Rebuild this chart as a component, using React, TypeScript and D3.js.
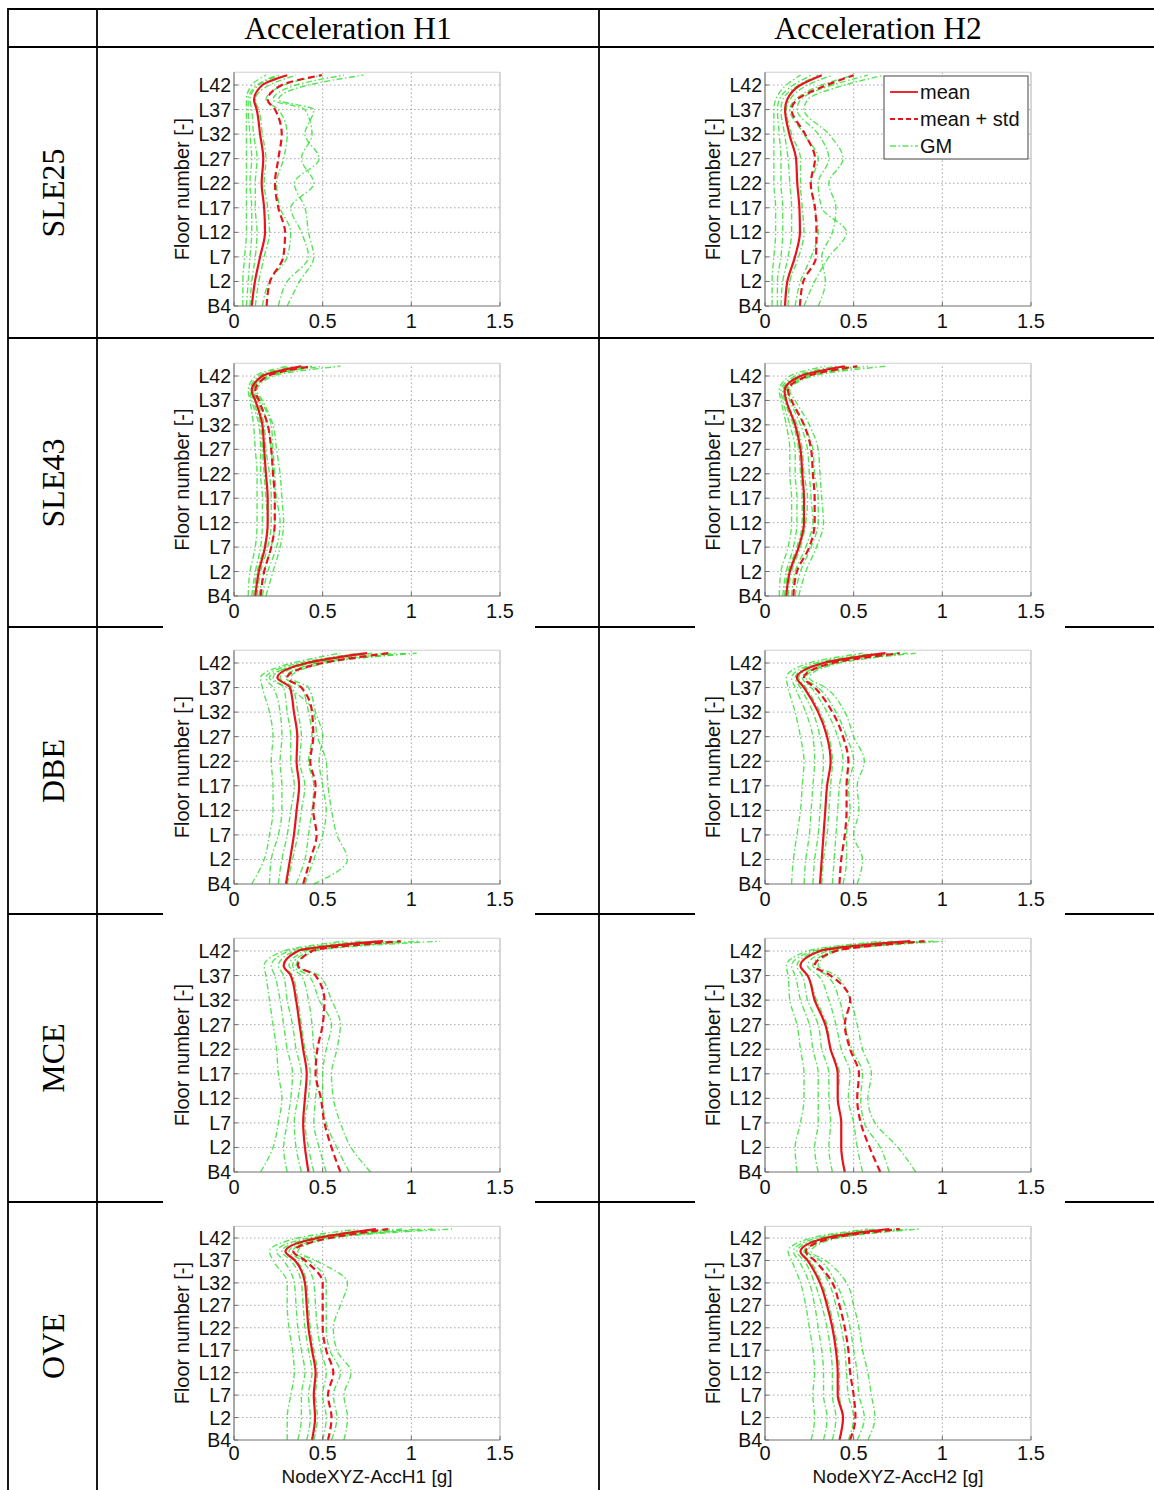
import React from 'react';
import * as d3 from 'd3';

// ---------- labels / ticks ----------
const ROW_LABELS = ['SLE25', 'SLE43', 'DBE', 'MCE', 'OVE'];
const COL_LABELS = ['Acceleration H1', 'Acceleration H2'];
const X_LABELS = ['NodeXYZ-AccH1 [g]', 'NodeXYZ-AccH2 [g]'];
const FLOOR_TICKS = ['B4', 'L2', 'L7', 'L12', 'L17', 'L22', 'L27', 'L32', 'L37', 'L42'];
const FLOOR_TICK_IDX = [0, 5, 10, 15, 20, 25, 30, 35, 40, 45];
const X_TICKS = [0, 0.5, 1, 1.5];
const X_TICK_TEXT = ['0', '0.5', '1', '1.5'];
// floor index (B4 = 0, L2 = 5, ..., L42 = 45, roof = 47) at which profiles are sampled
const LEVELS = [0, 5, 10, 15, 20, 25, 30, 35, 40, 42, 45, 47];
const LEGEND = ['mean', 'mean + std', 'GM'];

// ---------- data (peak floor acceleration, g) ----------
// SLE25
const sle25H1Mean = [0.10, 0.118, 0.147, 0.175, 0.17, 0.156, 0.165, 0.147, 0.128, 0.113, 0.16, 0.30];
const sle25H1Std = [0.184, 0.203, 0.278, 0.288, 0.25, 0.231, 0.25, 0.269, 0.231, 0.19, 0.27, 0.495];
const sle25H1GM = [
  [0.05, 0.05, 0.06, 0.07, 0.07, 0.07, 0.07, 0.07, 0.07, 0.07, 0.10, 0.18],
  [0.07, 0.08, 0.09, 0.10, 0.10, 0.09, 0.10, 0.09, 0.08, 0.08, 0.13, 0.24],
  [0.09, 0.10, 0.12, 0.13, 0.12, 0.12, 0.13, 0.11, 0.10, 0.09, 0.14, 0.26],
  [0.12, 0.14, 0.17, 0.20, 0.19, 0.17, 0.18, 0.16, 0.14, 0.12, 0.20, 0.35],
  [0.16, 0.20, 0.30, 0.32, 0.26, 0.24, 0.28, 0.30, 0.25, 0.18, 0.28, 0.50],
  [0.25, 0.30, 0.42, 0.38, 0.32, 0.45, 0.38, 0.44, 0.40, 0.22, 0.35, 0.62],
  [0.30, 0.37, 0.45, 0.42, 0.40, 0.34, 0.48, 0.40, 0.45, 0.25, 0.42, 0.73],
];
const sle25H2Mean = [0.113, 0.126, 0.169, 0.197, 0.194, 0.182, 0.175, 0.137, 0.113, 0.125, 0.20, 0.32];
const sle25H2Std = [0.197, 0.216, 0.288, 0.29, 0.282, 0.258, 0.282, 0.226, 0.15, 0.18, 0.35, 0.50];
const sle25H2GM = [
  [0.04, 0.04, 0.05, 0.06, 0.06, 0.05, 0.05, 0.05, 0.05, 0.06, 0.12, 0.20],
  [0.07, 0.07, 0.09, 0.10, 0.10, 0.09, 0.09, 0.08, 0.07, 0.08, 0.16, 0.26],
  [0.09, 0.10, 0.13, 0.15, 0.15, 0.14, 0.13, 0.11, 0.09, 0.10, 0.19, 0.30],
  [0.13, 0.14, 0.19, 0.22, 0.21, 0.20, 0.20, 0.15, 0.12, 0.14, 0.24, 0.38],
  [0.17, 0.20, 0.26, 0.30, 0.28, 0.26, 0.30, 0.22, 0.14, 0.17, 0.32, 0.50],
  [0.22, 0.28, 0.36, 0.46, 0.32, 0.30, 0.36, 0.30, 0.18, 0.20, 0.38, 0.58],
  [0.30, 0.34, 0.32, 0.38, 0.40, 0.36, 0.44, 0.36, 0.22, 0.24, 0.45, 0.67],
];
// SLE43
const sle43H1Mean = [0.12, 0.14, 0.175, 0.19, 0.19, 0.18, 0.17, 0.16, 0.12, 0.10, 0.16, 0.38];
const sle43H1Std = [0.15, 0.17, 0.21, 0.23, 0.23, 0.22, 0.21, 0.19, 0.14, 0.12, 0.19, 0.44];
const sle43H1GM = [
  [0.08, 0.09, 0.12, 0.13, 0.13, 0.13, 0.12, 0.11, 0.09, 0.08, 0.12, 0.30],
  [0.10, 0.12, 0.15, 0.16, 0.16, 0.15, 0.15, 0.14, 0.10, 0.09, 0.14, 0.34],
  [0.11, 0.13, 0.17, 0.19, 0.18, 0.17, 0.16, 0.15, 0.11, 0.10, 0.16, 0.37],
  [0.13, 0.15, 0.19, 0.21, 0.21, 0.20, 0.18, 0.17, 0.13, 0.11, 0.17, 0.40],
  [0.14, 0.17, 0.21, 0.23, 0.23, 0.22, 0.21, 0.19, 0.14, 0.11, 0.19, 0.44],
  [0.16, 0.19, 0.24, 0.26, 0.24, 0.23, 0.22, 0.21, 0.15, 0.12, 0.20, 0.50],
  [0.18, 0.22, 0.26, 0.28, 0.27, 0.26, 0.24, 0.22, 0.16, 0.13, 0.22, 0.60],
];
const sle43H2Mean = [0.12, 0.14, 0.19, 0.22, 0.22, 0.21, 0.20, 0.17, 0.12, 0.11, 0.20, 0.45];
const sle43H2Std = [0.16, 0.18, 0.25, 0.28, 0.28, 0.27, 0.26, 0.22, 0.15, 0.13, 0.24, 0.52];
const sle43H2GM = [
  [0.08, 0.09, 0.13, 0.15, 0.15, 0.14, 0.14, 0.12, 0.09, 0.08, 0.14, 0.34],
  [0.10, 0.12, 0.16, 0.18, 0.18, 0.17, 0.17, 0.14, 0.10, 0.09, 0.17, 0.40],
  [0.11, 0.13, 0.18, 0.21, 0.21, 0.20, 0.19, 0.16, 0.11, 0.10, 0.19, 0.44],
  [0.13, 0.15, 0.20, 0.23, 0.24, 0.22, 0.21, 0.18, 0.12, 0.11, 0.21, 0.47],
  [0.15, 0.17, 0.23, 0.27, 0.26, 0.25, 0.24, 0.20, 0.14, 0.12, 0.23, 0.52],
  [0.17, 0.20, 0.26, 0.30, 0.30, 0.28, 0.27, 0.22, 0.15, 0.13, 0.25, 0.58],
  [0.19, 0.23, 0.29, 0.33, 0.32, 0.31, 0.30, 0.25, 0.17, 0.14, 0.27, 0.68],
];
// DBE
const dbeH1Mean = [0.293, 0.316, 0.338, 0.353, 0.367, 0.353, 0.357, 0.338, 0.316, 0.245, 0.41, 0.75];
const dbeH1Std = [0.39, 0.43, 0.466, 0.447, 0.46, 0.43, 0.447, 0.44, 0.38, 0.30, 0.50, 0.87];
const dbeH1GM = [
  [0.10, 0.17, 0.20, 0.22, 0.22, 0.21, 0.22, 0.20, 0.16, 0.15, 0.33, 0.60],
  [0.20, 0.21, 0.25, 0.27, 0.27, 0.26, 0.27, 0.26, 0.22, 0.18, 0.37, 0.70],
  [0.25, 0.27, 0.30, 0.32, 0.34, 0.32, 0.32, 0.30, 0.28, 0.22, 0.40, 0.78],
  [0.30, 0.33, 0.36, 0.38, 0.40, 0.37, 0.38, 0.36, 0.33, 0.26, 0.43, 0.85],
  [0.35, 0.40, 0.42, 0.44, 0.45, 0.42, 0.44, 0.42, 0.38, 0.29, 0.47, 0.92],
  [0.40, 0.45, 0.50, 0.52, 0.50, 0.48, 0.50, 0.46, 0.42, 0.32, 0.52, 0.98],
  [0.45, 0.64, 0.58, 0.55, 0.53, 0.52, 0.47, 0.45, 0.30, 0.20, 0.45, 1.03],
];
const dbeH2Mean = [0.31, 0.32, 0.33, 0.34, 0.35, 0.37, 0.35, 0.30, 0.22, 0.18, 0.33, 0.68];
const dbeH2Std = [0.42, 0.43, 0.45, 0.46, 0.46, 0.47, 0.44, 0.38, 0.28, 0.22, 0.38, 0.76];
const dbeH2GM = [
  [0.15, 0.16, 0.18, 0.20, 0.21, 0.22, 0.20, 0.17, 0.13, 0.12, 0.25, 0.55],
  [0.22, 0.23, 0.25, 0.26, 0.27, 0.28, 0.27, 0.23, 0.17, 0.15, 0.29, 0.62],
  [0.27, 0.28, 0.30, 0.31, 0.32, 0.33, 0.31, 0.27, 0.20, 0.17, 0.31, 0.66],
  [0.32, 0.33, 0.35, 0.36, 0.37, 0.38, 0.36, 0.31, 0.23, 0.19, 0.34, 0.70],
  [0.38, 0.39, 0.40, 0.41, 0.42, 0.44, 0.41, 0.35, 0.26, 0.21, 0.37, 0.75],
  [0.44, 0.46, 0.46, 0.48, 0.47, 0.50, 0.46, 0.40, 0.30, 0.23, 0.40, 0.80],
  [0.52, 0.55, 0.50, 0.53, 0.52, 0.56, 0.50, 0.45, 0.34, 0.25, 0.42, 0.85],
];
// MCE
const mceH1Mean = [0.42, 0.40, 0.39, 0.40, 0.41, 0.39, 0.37, 0.35, 0.32, 0.28, 0.36, 0.84];
const mceH1Std = [0.60, 0.55, 0.51, 0.49, 0.46, 0.47, 0.50, 0.51, 0.46, 0.36, 0.44, 0.94];
const mceH1GM = [
  [0.15, 0.22, 0.25, 0.27, 0.25, 0.24, 0.22, 0.20, 0.18, 0.17, 0.28, 0.62],
  [0.30, 0.28, 0.30, 0.32, 0.33, 0.30, 0.28, 0.26, 0.23, 0.21, 0.31, 0.72],
  [0.38, 0.35, 0.34, 0.36, 0.38, 0.35, 0.33, 0.30, 0.28, 0.25, 0.34, 0.80],
  [0.45, 0.42, 0.40, 0.42, 0.43, 0.40, 0.38, 0.36, 0.33, 0.28, 0.37, 0.88],
  [0.52, 0.48, 0.45, 0.46, 0.47, 0.45, 0.44, 0.42, 0.38, 0.31, 0.40, 0.95],
  [0.65, 0.58, 0.52, 0.50, 0.50, 0.52, 0.55, 0.48, 0.42, 0.33, 0.43, 1.05],
  [0.77, 0.66, 0.60, 0.56, 0.55, 0.58, 0.60, 0.55, 0.48, 0.35, 0.46, 1.16],
];
const mceH2Mean = [0.45, 0.43, 0.43, 0.41, 0.41, 0.37, 0.34, 0.28, 0.24, 0.20, 0.31, 0.82];
const mceH2Std = [0.65, 0.59, 0.54, 0.52, 0.53, 0.48, 0.45, 0.48, 0.37, 0.28, 0.40, 0.90];
const mceH2GM = [
  [0.18, 0.17, 0.20, 0.22, 0.22, 0.20, 0.18, 0.14, 0.13, 0.12, 0.24, 0.66],
  [0.30, 0.28, 0.30, 0.30, 0.30, 0.27, 0.25, 0.20, 0.17, 0.15, 0.27, 0.72],
  [0.38, 0.36, 0.37, 0.36, 0.36, 0.32, 0.30, 0.24, 0.21, 0.18, 0.29, 0.78],
  [0.45, 0.43, 0.43, 0.41, 0.42, 0.37, 0.35, 0.29, 0.24, 0.20, 0.32, 0.83],
  [0.55, 0.52, 0.50, 0.47, 0.48, 0.43, 0.40, 0.36, 0.30, 0.24, 0.35, 0.88],
  [0.70, 0.65, 0.56, 0.54, 0.55, 0.49, 0.45, 0.42, 0.35, 0.27, 0.38, 0.95],
  [0.85, 0.75, 0.62, 0.58, 0.60, 0.55, 0.52, 0.48, 0.40, 0.30, 0.40, 1.02],
];
// OVE
const oveH1Mean = [0.44, 0.457, 0.45, 0.46, 0.44, 0.42, 0.41, 0.40, 0.344, 0.29, 0.47, 0.80];
const oveH1Std = [0.53, 0.55, 0.53, 0.56, 0.52, 0.50, 0.50, 0.50, 0.40, 0.335, 0.54, 0.87];
const oveH1GM = [
  [0.30, 0.30, 0.32, 0.34, 0.33, 0.31, 0.30, 0.30, 0.22, 0.20, 0.36, 0.70],
  [0.36, 0.38, 0.38, 0.40, 0.38, 0.36, 0.35, 0.34, 0.28, 0.24, 0.42, 0.80],
  [0.41, 0.43, 0.42, 0.44, 0.42, 0.40, 0.39, 0.38, 0.32, 0.27, 0.45, 0.88],
  [0.45, 0.47, 0.46, 0.47, 0.45, 0.43, 0.42, 0.41, 0.35, 0.29, 0.48, 0.95],
  [0.50, 0.52, 0.50, 0.52, 0.49, 0.47, 0.46, 0.45, 0.38, 0.31, 0.50, 1.05],
  [0.55, 0.58, 0.56, 0.60, 0.54, 0.52, 0.52, 0.52, 0.42, 0.33, 0.52, 1.12],
  [0.62, 0.64, 0.62, 0.66, 0.58, 0.56, 0.60, 0.64, 0.46, 0.36, 0.55, 1.23],
];
const oveH2Mean = [0.42, 0.44, 0.41, 0.41, 0.40, 0.38, 0.35, 0.31, 0.24, 0.20, 0.34, 0.70];
const oveH2Std = [0.48, 0.51, 0.50, 0.48, 0.47, 0.45, 0.42, 0.38, 0.28, 0.23, 0.38, 0.76];
const oveH2GM = [
  [0.26, 0.28, 0.27, 0.28, 0.27, 0.25, 0.23, 0.20, 0.15, 0.13, 0.26, 0.58],
  [0.33, 0.35, 0.33, 0.33, 0.32, 0.30, 0.28, 0.25, 0.19, 0.16, 0.29, 0.63],
  [0.38, 0.40, 0.38, 0.38, 0.37, 0.35, 0.32, 0.28, 0.22, 0.18, 0.32, 0.68],
  [0.42, 0.44, 0.42, 0.42, 0.41, 0.39, 0.36, 0.32, 0.25, 0.20, 0.34, 0.72],
  [0.47, 0.50, 0.47, 0.46, 0.45, 0.43, 0.40, 0.36, 0.28, 0.22, 0.37, 0.76],
  [0.52, 0.56, 0.53, 0.52, 0.50, 0.48, 0.45, 0.40, 0.31, 0.24, 0.39, 0.82],
  [0.58, 0.62, 0.60, 0.58, 0.55, 0.53, 0.50, 0.46, 0.34, 0.26, 0.41, 0.87],
];

const PANELS = [
  [[sle25H1Mean, sle25H1Std, sle25H1GM], [sle25H2Mean, sle25H2Std, sle25H2GM]],
  [[sle43H1Mean, sle43H1Std, sle43H1GM], [sle43H2Mean, sle43H2Std, sle43H2GM]],
  [[dbeH1Mean, dbeH1Std, dbeH1GM], [dbeH2Mean, dbeH2Std, dbeH2GM]],
  [[mceH1Mean, mceH1Std, mceH1GM], [mceH2Mean, mceH2Std, mceH2GM]],
  [[oveH1Mean, oveH1Std, oveH1GM], [oveH2Mean, oveH2Std, oveH2GM]],
];

// ---------- layout ----------
const W = 1154;
const H = 1490;
const ROW_GEOM = [
  { l42: 85, b4: 306 },
  { l42: 376, b4: 596 },
  { l42: 663, b4: 884 },
  { l42: 951, b4: 1172 },
  { l42: 1238, b4: 1440 },
];
const COL_X0 = [234, 765];
const AX_W = 266;
const ROW_LINES = [9, 47, 338, 627, 914, 1202];
const ROW_CENTERS = [193, 483, 771, 1058, 1346];
const COL_CENTERS = [348, 878];

const SANS = 'Liberation Sans, Arial, Helvetica, sans-serif';
const SERIF = 'Liberation Serif, Times New Roman, Times, serif';
const RED = '#e8141c';
const GREEN = '#1fdc1f';

type Pt = [number, number];

function Panel({ row, col }: { row: number; col: number }) {
  const [mean, std, gms] = PANELS[row][col] as [number[], number[], number[][]];
  const g = ROW_GEOM[row];
  const x0 = COL_X0[col];
  const last = row === ROW_GEOM.length - 1;
  const xs = d3.scaleLinear().domain([0, 1.5]).range([x0, x0 + AX_W]);
  const ys = d3.scaleLinear().domain([0, 45]).range([g.b4, g.l42]);
  const yTop = ys(47.6);
  const line = d3
    .line<Pt>()
    .x((d) => xs(d[0]))
    .y((d) => ys(d[1]))
    .curve(d3.curveMonotoneY);
  const pts = (arr: number[]): Pt[] => arr.map((v, i) => [v, LEVELS[i]] as Pt);
  const midY = (yTop + g.b4) / 2;

  return (
    <g>
      {/* grid */}
      {FLOOR_TICK_IDX.slice(1).map((f) => (
        <line key={'h' + f} x1={xs(0)} x2={xs(1.5)} y1={ys(f)} y2={ys(f)}
          stroke="#a8a8a8" strokeWidth={1} strokeDasharray="1.5,2.5" />
      ))}
      {X_TICKS.slice(1, 3).map((v) => (
        <line key={'v' + v} x1={xs(v)} x2={xs(v)} y1={g.b4} y2={yTop}
          stroke="#a8a8a8" strokeWidth={1} strokeDasharray="1.5,2.5" />
      ))}
      {/* box */}
      <line x1={xs(0)} x2={xs(1.5)} y1={yTop} y2={yTop} stroke="#cfcfcf" strokeWidth={1} />
      <line x1={xs(1.5)} x2={xs(1.5)} y1={yTop} y2={g.b4} stroke="#bdbdbd" strokeWidth={1.2} />
      {/* GM lines */}
      {gms.map((gm, i) => (
        <path key={'gm' + i} d={line(pts(gm)) || ''} fill="none" stroke={GREEN}
          strokeOpacity={0.75} strokeWidth={1.4} strokeDasharray="6,2.5,1.5,2.5" />
      ))}
      {/* mean + std */}
      <path d={line(pts(std)) || ''} fill="none" stroke={RED} strokeWidth={2.2} strokeDasharray="7,4" />
      {/* mean */}
      <path d={line(pts(mean)) || ''} fill="none" stroke={RED} strokeWidth={2.2} />
      {/* axes */}
      <line x1={xs(0)} x2={xs(0)} y1={yTop} y2={g.b4} stroke="#6e6e6e" strokeWidth={1.2} />
      <line x1={xs(0)} x2={xs(1.5)} y1={g.b4} y2={g.b4} stroke="#6e6e6e" strokeWidth={1.2} />
      {FLOOR_TICK_IDX.map((f) => (
        <line key={'yt' + f} x1={xs(0)} x2={xs(0) + 4} y1={ys(f)} y2={ys(f)} stroke="#6e6e6e" strokeWidth={1} />
      ))}
      {X_TICKS.map((v) => (
        <line key={'xt' + v} x1={xs(v)} x2={xs(v)} y1={g.b4} y2={g.b4 - 4} stroke="#6e6e6e" strokeWidth={1} />
      ))}
      {/* tick labels */}
      {FLOOR_TICKS.map((t, i) => (
        <text key={'ytl' + t} x={xs(0) - 3} y={ys(FLOOR_TICK_IDX[i])} dy="0.36em" textAnchor="end"
          fontFamily={SANS} fontSize={19.5} fill="#111">{t}</text>
      ))}
      {X_TICKS.map((v, i) => (
        <text key={'xtl' + v} x={xs(v)} y={g.b4 + (last ? 20 : 22)} textAnchor="middle"
          fontFamily={SANS} fontSize={20} fill="#111">{X_TICK_TEXT[i]}</text>
      ))}
      {/* y label */}
      <text transform={`translate(${x0 - 45},${midY}) rotate(-90)`} textAnchor="middle"
        fontFamily={SANS} fontSize={20} fill="#111">Floor number [-]</text>
      {last && (
        <text x={xs(0.75)} y={g.b4 + 43} textAnchor="middle" fontFamily={SANS} fontSize={19} fill="#111">
          {X_LABELS[col]}
        </text>
      )}
      {row === 0 && col === 1 && <Legend />}
    </g>
  );
}

function Legend() {
  const x = 884, y = 76, w = 144, h = 83;
  const rows = [92, 119, 146];
  const styles = [
    { stroke: RED, dash: undefined, width: 1.8, op: 1 },
    { stroke: RED, dash: '5,3', width: 1.8, op: 1 },
    { stroke: GREEN, dash: '6,2.5,1.5,2.5', width: 1.3, op: 0.75 },
  ];
  return (
    <g>
      <rect x={x} y={y} width={w} height={h} fill="#fff" stroke="#444" strokeWidth={1} />
      {LEGEND.map((t, i) => (
        <g key={t}>
          <line x1={890} x2={918} y1={rows[i]} y2={rows[i]} stroke={styles[i].stroke}
            strokeWidth={styles[i].width} strokeDasharray={styles[i].dash} strokeOpacity={styles[i].op} />
          <text x={920} y={rows[i]} dy="0.36em" fontFamily={SANS} fontSize={20} fill="#111">{t}</text>
        </g>
      ))}
    </g>
  );
}

export default function App() {
  const hSegs: [number, number, number][] = [];
  ROW_LINES.forEach((y, i) => {
    if (i < 3) hSegs.push([8, W, y]);
    else {
      hSegs.push([8, 163, y]);
      hSegs.push([535, 695, y]);
      hSegs.push([1065, W, y]);
    }
  });
  return (
    <svg width={W} height={H} style={{ position: 'absolute', left: 0, top: 0, background: '#fff' }}>
      <rect x={0} y={0} width={W} height={H} fill="#fff" />
      {ROW_LABELS.map((r, i) =>
        [0, 1].map((c) => <Panel key={r + c} row={i} col={c} />)
      )}
      {/* table lines */}
      {hSegs.map(([a, b, y], i) => (
        <line key={'hs' + i} x1={a} x2={b} y1={y} y2={y} stroke="#000" strokeWidth={2.2} />
      ))}
      {[8, 97, 599].map((x) => (
        <line key={'vl' + x} x1={x} x2={x} y1={8} y2={H} stroke="#000" strokeWidth={1.8} />
      ))}
      {/* headers */}
      {COL_LABELS.map((t, i) => (
        <text key={t} x={COL_CENTERS[i]} y={39} textAnchor="middle" fontFamily={SERIF} fontSize={31.5} fill="#000">{t}</text>
      ))}
      {ROW_LABELS.map((t, i) => (
        <text key={t} transform={`translate(64,${ROW_CENTERS[i]}) rotate(-90)`} textAnchor="middle"
          fontFamily={SERIF} fontSize={32} fill="#000">{t}</text>
      ))}
    </svg>
  );
}
